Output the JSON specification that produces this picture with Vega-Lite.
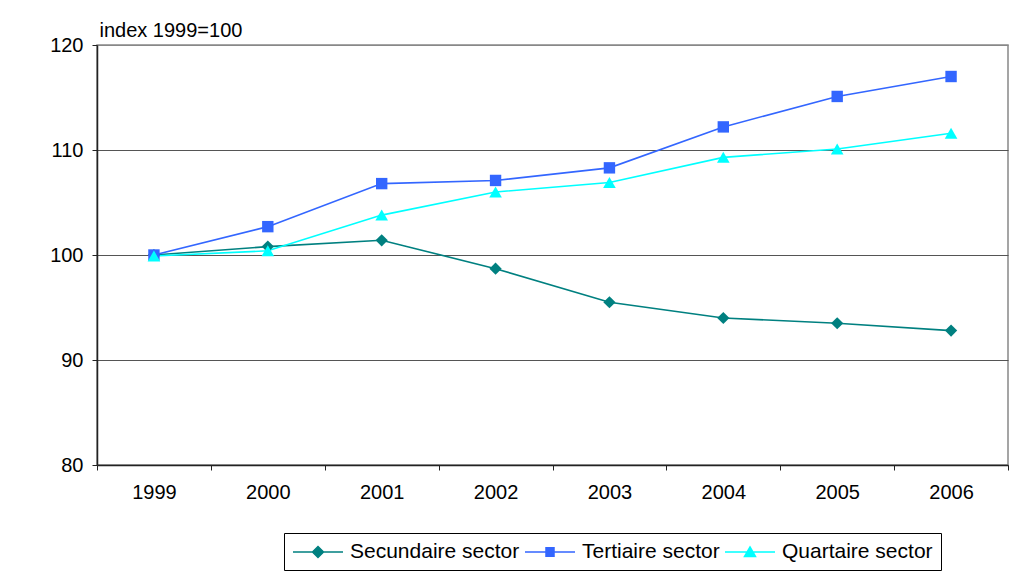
{
  "$schema": "https://vega.github.io/schema/vega-lite/v6.json",
  "autosize": {"type": "none"},
  "width": 911,
  "height": 420,
  "padding": {"left": 97, "top": 45, "right": 5, "bottom": 108},
  "background": "white",
  "config": {
    "font": "Liberation Sans",
    "view": {"stroke": "#888", "strokeWidth": 1.5},
    "axis": {"labelFont": "Liberation Sans", "labelFontSize": 20, "labelColor": "black", "titleFont": "Liberation Sans"}
  },
  "data": {
    "values": [
      {"year": "1999", "series": "Secundaire sector", "value": 100.0},
      {"year": "2000", "series": "Secundaire sector", "value": 100.8},
      {"year": "2001", "series": "Secundaire sector", "value": 101.4},
      {"year": "2002", "series": "Secundaire sector", "value": 98.7},
      {"year": "2003", "series": "Secundaire sector", "value": 95.5},
      {"year": "2004", "series": "Secundaire sector", "value": 94.0},
      {"year": "2005", "series": "Secundaire sector", "value": 93.5},
      {"year": "2006", "series": "Secundaire sector", "value": 92.8},
      {"year": "1999", "series": "Tertiaire sector", "value": 100.0},
      {"year": "2000", "series": "Tertiaire sector", "value": 102.7},
      {"year": "2001", "series": "Tertiaire sector", "value": 106.8},
      {"year": "2002", "series": "Tertiaire sector", "value": 107.1},
      {"year": "2003", "series": "Tertiaire sector", "value": 108.3},
      {"year": "2004", "series": "Tertiaire sector", "value": 112.2},
      {"year": "2005", "series": "Tertiaire sector", "value": 115.1},
      {"year": "2006", "series": "Tertiaire sector", "value": 117.0},
      {"year": "1999", "series": "Quartaire sector", "value": 99.9},
      {"year": "2000", "series": "Quartaire sector", "value": 100.4},
      {"year": "2001", "series": "Quartaire sector", "value": 103.8},
      {"year": "2002", "series": "Quartaire sector", "value": 106.0},
      {"year": "2003", "series": "Quartaire sector", "value": 106.9},
      {"year": "2004", "series": "Quartaire sector", "value": 109.3},
      {"year": "2005", "series": "Quartaire sector", "value": 110.1},
      {"year": "2006", "series": "Quartaire sector", "value": 111.6}
    ]
  },
  "encoding": {
    "x": {
      "field": "year", "type": "nominal", "bandPosition": 0.5,
      "scale": {"type": "band", "paddingInner": 0, "paddingOuter": 0},
      "axis": {"title": null, "labelAngle": 0, "tickBand": "extent", "tickSize": 5, "tickColor": "#222", "domainColor": "#222", "domainWidth": 1.5, "labelPadding": 12, "grid": false}
    },
    "y": {
      "field": "value", "type": "quantitative",
      "scale": {"domain": [80, 120], "nice": false, "zero": false},
      "axis": {
        "values": [80, 90, 100, 110, 120],
        "title": "index 1999=100", "titleAngle": 0, "titleAlign": "left", "titleBaseline": "alphabetic",
        "titleX": 2, "titleY": -9, "titleFontSize": 20, "titleFontWeight": "normal", "titleColor": "black",
        "tickSize": 5, "tickColor": "#222", "domainColor": "#222", "domainWidth": 1.5, "labelPadding": 9,
        "grid": true,
        "gridColor": {"condition": {"test": "datum.value === 120", "value": "#888"}, "value": "#555"},
        "gridWidth": 1.2
      }
    },
    "color": {
      "field": "series", "type": "nominal",
      "scale": {"domain": ["Secundaire sector", "Tertiaire sector", "Quartaire sector"], "range": ["#008080", "#3366FF", "#00FFFF"]},
      "legend": {
        "orient": "none", "legendX": 187, "legendY": 488, "direction": "horizontal", "title": null,
        "strokeColor": "black", "padding": 8, "labelFontSize": 21, "labelFont": "Liberation Sans", "labelColor": "black",
        "labelLimit": 400,
        "symbolSize": 400, "labelOffset": 36, "columnPadding": 2, "symbolStrokeWidth": 1.5,
        "encode": {
          "symbols": {
            "update": {
              "shape": {"signal": "datum.value === 'Secundaire sector' ? 'M-1,0H4M1.5,-0.55L2.05,0L1.5,0.55L0.95,0Z' : datum.value === 'Tertiaire sector' ? 'M-1,0H4M1.1,-0.42H1.9V0.42H1.1Z' : 'M-1,0H4M1.5,-0.5L2.05,0.45H0.95Z'"},
              "fill": {"signal": "datum.value === 'Secundaire sector' ? '#008080' : datum.value === 'Tertiaire sector' ? '#3366FF' : '#00FFFF'"},
              "stroke": {"signal": "datum.value === 'Secundaire sector' ? '#008080' : datum.value === 'Tertiaire sector' ? '#3366FF' : '#00FFFF'"},
              "strokeWidth": {"value": 1.5},
              "opacity": {"value": 1}
            }
          }
        }
      }
    }
  },
  "layer": [
    {"mark": {"type": "line", "strokeWidth": 1.6}},
    {
      "transform": [{"filter": "datum.series === 'Secundaire sector'"}],
      "mark": {"type": "point", "filled": true, "opacity": 1, "shape": "diamond", "size": 150}
    },
    {
      "transform": [{"filter": "datum.series === 'Tertiaire sector'"}],
      "mark": {"type": "point", "filled": true, "opacity": 1, "shape": "square", "size": 130}
    },
    {
      "transform": [{"filter": "datum.series === 'Quartaire sector'"}],
      "mark": {"type": "point", "filled": true, "opacity": 1, "shape": "triangle-up", "size": 160}
    }
  ]
}
